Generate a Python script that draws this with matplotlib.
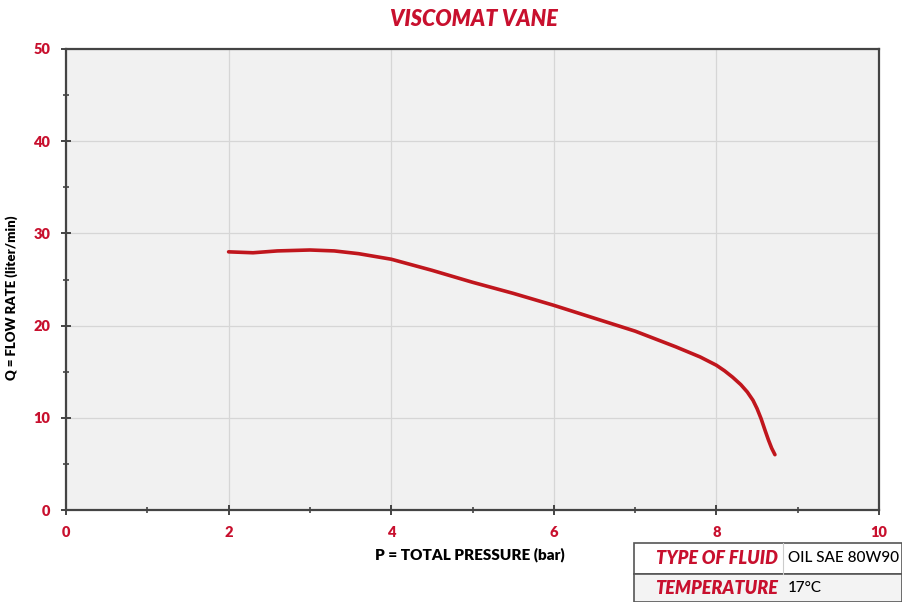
import matplotlib.pyplot as plt
from matplotlib.patches import Rectangle
from matplotlib.ticker import MultipleLocator

# curve
pressure = [2.0, 2.3, 2.6, 3.0, 3.3, 3.6, 4.0, 4.5, 5.0, 5.5, 6.0, 6.5, 7.0,
            7.5, 7.8, 8.0, 8.1, 8.2, 8.3, 8.38, 8.45, 8.5, 8.55, 8.6, 8.64, 8.68, 8.72]
flow = [28.0, 27.9, 28.1, 28.2, 28.1, 27.8, 27.2, 26.0, 24.7, 23.5, 22.2,
        20.8, 19.4, 17.7, 16.6, 15.7, 15.1, 14.4, 13.6, 12.8, 11.9, 11.0, 9.9,
        8.6, 7.6, 6.7, 6.0]

title = "VISCOMAT VANE"
xlabel = "P = TOTAL PRESSURE (bar)"
ylabel = "Q = FLOW RATE (liter/min)"
table_rows = [("TYPE OF FLUID", "OIL SAE 80W90"), ("TEMPERATURE", "17°C")]

red = "#c8102e"
line_red = "#c0161d"
font = "Lato"

fig = plt.figure(figsize=(9.02, 6.02), dpi=100)
ax = fig.add_axes([66 / 902, 92 / 602, 813 / 902, 461 / 602])
ax.set_facecolor("#f1f1f1")

ax.plot(pressure, flow, color=line_red, lw=2.6, solid_capstyle="round",
        solid_joinstyle="round")

ax.set_xlim(0, 10)
ax.set_ylim(0, 50)
ax.xaxis.set_major_locator(MultipleLocator(2))
ax.xaxis.set_minor_locator(MultipleLocator(1))
ax.yaxis.set_major_locator(MultipleLocator(10))
ax.yaxis.set_minor_locator(MultipleLocator(5))
ax.grid(True, which="major", color="#d6d6d6", lw=0.9)
ax.set_axisbelow(True)

for s in ax.spines.values():
    s.set_color("#444444")
    s.set_linewidth(1.6)

ax.tick_params(which="major", direction="inout", length=7, width=1.4, color="#444444",
               labelcolor=red, labelsize=10.5, pad=8)
ax.tick_params(which="minor", direction="inout", length=5, width=1.2, color="#444444")
for lbl in ax.get_xticklabels() + ax.get_yticklabels():
    lbl.set_fontfamily(font)
    lbl.set_fontweight("heavy")

ax.set_xlabel(xlabel, fontsize=11, fontweight="heavy", family=font)
ax.set_ylabel(ylabel, fontsize=9.5, fontweight="heavy", family=font)
ax.xaxis.set_label_coords((470 - 66) / 813, -37 / 461)
ax.yaxis.set_label_coords(-48 / 813, 0.46)

fig.text(0.525, 0.968, title, ha="center", va="center", color=red, fontsize=15.5,
         fontweight="heavy", fontstyle="italic", family=font)

# small info table, bottom right
x0, x1, xs = 634 / 902, 1.0, 783 / 902
ytop, ymid, ybot = 1 - 543 / 602, 1 - 574 / 602, 0.0
fig.patches.append(Rectangle((x0, ymid), x1 - x0, ytop - ymid, transform=fig.transFigure,
                             facecolor="white", edgecolor="#555555", lw=1.2))
fig.patches.append(Rectangle((x0, ybot), x1 - x0, ymid - ybot, transform=fig.transFigure,
                             facecolor="#f3f3f3", edgecolor="#555555", lw=1.2))
fig.add_artist(plt.Line2D([xs, xs], [ymid, ytop], transform=fig.transFigure,
                          color="#cccccc", lw=0.8))
for (k, v), yc in zip(table_rows, [(ytop + ymid) / 2, (ymid + ybot) / 2]):
    fig.text(778 / 902, yc, k, ha="right", va="center", color=red, fontsize=13,
             fontweight="heavy", fontstyle="italic", family=font)
    fig.text(788 / 902, yc, v, ha="left", va="center", color="black", fontsize=11,
             family=font, fontweight="medium")

fig.savefig("out.png", dpi=100)
